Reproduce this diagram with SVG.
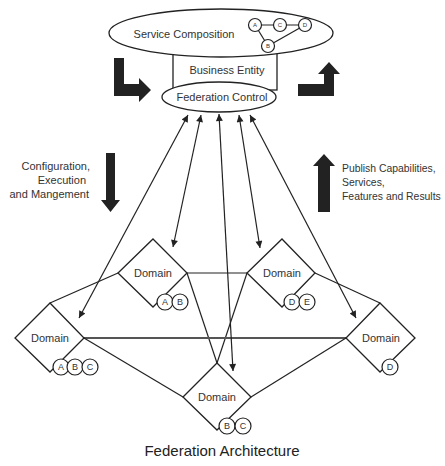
<svg xmlns="http://www.w3.org/2000/svg" width="445" height="466" viewBox="0 0 445 466">
<style>
.t{font-family:"Liberation Sans",Arial,sans-serif;fill:#333;font-size:11px}
.c{text-anchor:middle}
.ln{stroke:#222;stroke-width:1.2;fill:none}
.sh{fill:#fff;stroke:#222;stroke-width:1.3}
.cl{fill:#fff;stroke:#222;stroke-width:1.2}
.lt{font-family:"Liberation Sans",Arial,sans-serif;fill:#333;font-size:9px;text-anchor:middle}
.blk{fill:#222}
</style>
<defs>
<marker id="ah" viewBox="0 0 10 10" refX="10" refY="5" markerWidth="9" markerHeight="7" markerUnits="userSpaceOnUse" orient="auto-start-reverse">
<path d="M0,0 L10,5 L0,10 z" fill="#222"/>
</marker>
</defs>
<rect width="445" height="466" fill="#fff"/>

<g id="connectors">
<line class="ln" x1="50" y1="303" x2="118" y2="273"/>
<line class="ln" x1="187" y1="273" x2="247" y2="273"/>
<line class="ln" x1="187" y1="273" x2="217" y2="363"/>
<line class="ln" x1="247" y1="273" x2="217" y2="363"/>
<line class="ln" x1="315" y1="273" x2="380" y2="303"/>
<line x1="84" y1="338" x2="346" y2="338" stroke="#555" stroke-width="2"/>
<line class="ln" x1="84" y1="338" x2="183" y2="397"/>
<line class="ln" x1="346" y1="338" x2="251" y2="397"/>
<line class="ln" x1="188" y1="115" x2="79" y2="318" marker-start="url(#ah)" marker-end="url(#ah)"/>
<line class="ln" x1="201" y1="115" x2="173" y2="247" marker-start="url(#ah)" marker-end="url(#ah)"/>
<line class="ln" x1="219" y1="114" x2="233" y2="371" marker-start="url(#ah)" marker-end="url(#ah)"/>
<line class="ln" x1="239" y1="115" x2="260" y2="248" marker-start="url(#ah)" marker-end="url(#ah)"/>
<line class="ln" x1="250" y1="115" x2="356" y2="318" marker-start="url(#ah)" marker-end="url(#ah)"/>
</g>

<g id="business-entity">
<rect class="sh" x="173" y="45" width="104" height="45"/>
<text class="t c" x="227" y="74">Business Entity</text>
</g>

<g id="service-composition">
<ellipse class="sh" cx="221" cy="33" rx="112" ry="24"/>
<text class="t c" x="184" y="38">Service Composition</text>
<line class="ln" x1="255" y1="25" x2="305" y2="25"/>
<line class="ln" x1="255" y1="25" x2="268" y2="46"/>
<line class="ln" x1="268" y1="46" x2="305" y2="25"/>
<circle class="cl" cx="255" cy="25" r="6.5"/>
<circle class="cl" cx="280" cy="25" r="6.5"/>
<circle class="cl" cx="305" cy="25" r="6.5"/>
<circle class="cl" cx="268" cy="46" r="6.5"/>
<text class="lt" style="font-size:6px" x="255" y="27">A</text>
<text class="lt" style="font-size:6px" x="280" y="27">C</text>
<text class="lt" style="font-size:6px" x="305" y="27">D</text>
<text class="lt" style="font-size:6px" x="268" y="48">B</text>
</g>

<g id="federation-control">
<ellipse class="sh" cx="219" cy="97" rx="57" ry="15"/>
<text class="t c" x="222" y="101">Federation Control</text>
</g>

<g id="elbow-left">
<polygon class="blk" points="114,58 124,58 124,84 139,84 139,78 151,90 139,102 139,96 114,96"/>
</g>
<g id="elbow-right">
<polygon class="blk" points="298,84 324,84 324,74 318,74 329,62 340,74 334,74 334,96 298,96"/>
</g>

<g id="config-arrow">
<polygon class="blk" points="106,153 115,153 115,200 120,200 110.5,212 101,200 106,200"/>
<text class="t" x="90" y="170" text-anchor="end">Configuration,</text>
<text class="t" x="86" y="184" text-anchor="end">Execution</text>
<text class="t" x="89" y="198" text-anchor="end">and Mangement</text>
</g>

<g id="publish-arrow">
<polygon class="blk" points="324,154 335,166 330,166 330,212 318,212 318,166 313,166"/>
<text class="t" style="font-size:10.4px" x="342" y="172">Publish Capabilities,</text>
<text class="t" style="font-size:10.4px" x="342" y="186">Services,</text>
<text class="t" style="font-size:10.4px" x="342" y="200">Features and Results</text>
</g>

<g id="domain-1">
<polygon class="sh" points="153,239 187,273 153,307 118,273"/>
<text class="t c" x="153" y="277">Domain</text>
<circle class="cl" cx="165" cy="302" r="8"/>
<circle class="cl" cx="180" cy="302" r="8"/>
<text class="lt" x="165" y="305">A</text>
<text class="lt" x="180" y="305">B</text>
</g>

<g id="domain-2">
<polygon class="sh" points="282,239 315,273 282,307 247,273"/>
<text class="t c" x="282" y="277">Domain</text>
<circle class="cl" cx="292" cy="302" r="8"/>
<circle class="cl" cx="307" cy="302" r="8"/>
<text class="lt" x="292" y="305">D</text>
<text class="lt" x="307" y="305">E</text>
</g>

<g id="domain-3">
<polygon class="sh" points="50,303 84,338 50,372 15,338"/>
<text class="t c" x="50" y="342">Domain</text>
<circle class="cl" cx="61" cy="367" r="8"/>
<circle class="cl" cx="75" cy="367" r="8"/>
<circle class="cl" cx="90" cy="367" r="8"/>
<text class="lt" x="61" y="370">A</text>
<text class="lt" x="75" y="370">B</text>
<text class="lt" x="90" y="370">C</text>
</g>

<g id="domain-4">
<polygon class="sh" points="380,303 415,338 380,372 346,338"/>
<text class="t c" x="381" y="342">Domain</text>
<circle class="cl" cx="390" cy="367" r="8"/>
<text class="lt" x="390" y="370">D</text>
</g>

<g id="domain-5">
<polygon class="sh" points="217,363 251,397 217,430 183,397"/>
<text class="t c" x="217" y="401">Domain</text>
<circle class="cl" cx="227" cy="426" r="8"/>
<circle class="cl" cx="243" cy="426" r="8"/>
<text class="lt" x="227" y="429">B</text>
<text class="lt" x="243" y="429">C</text>
</g>

<text x="222" y="456" text-anchor="middle" font-family="Liberation Sans, Arial, sans-serif" font-size="15" fill="#222">Federation Architecture</text>
</svg>
